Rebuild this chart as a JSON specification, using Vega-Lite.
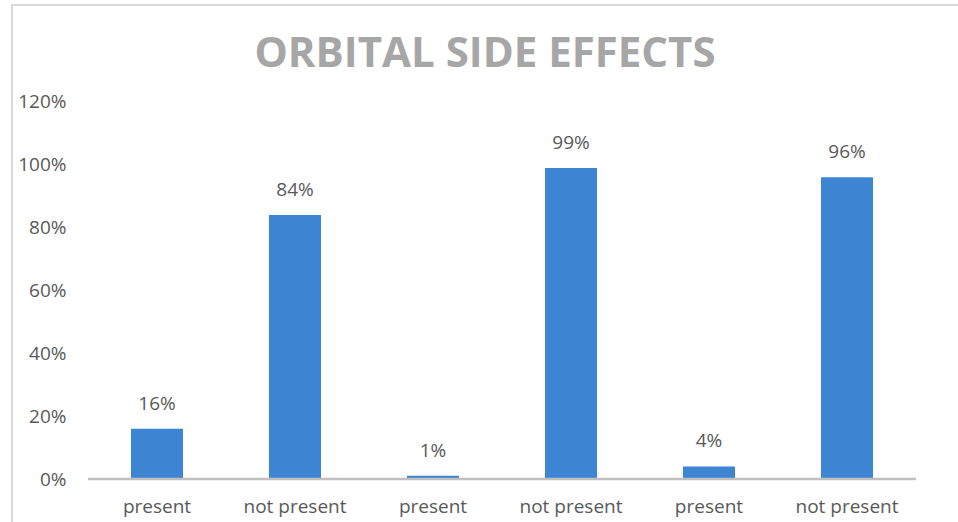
{
  "$schema": "https://vega.github.io/schema/vega-lite/v6.json",
  "autosize": "none",
  "padding": {"left": 12, "top": 5, "right": 0, "bottom": 0},
  "width": 956,
  "height": 530,
  "background": "#ffffff",
  "config": {
    "view": {"stroke": "#d9d9d9", "strokeWidth": 2},
    "font": "Open Sans"
  },
  "title": {
    "text": "ORBITAL SIDE EFFECTS",
    "font": "Open Sans",
    "fontSize": 42,
    "fontWeight": "bold",
    "color": "#a6a6a6",
    "anchor": "middle",
    "baseline": "alphabetic",
    "offset": -104,
    "dx": -5
  },
  "data": {
    "values": [
      {"id": "p1", "label": "present", "value": 0.16, "text": "16%"},
      {"id": "np1", "label": "not present", "value": 0.84, "text": "84%"},
      {"id": "p2", "label": "present", "value": 0.01, "text": "1%"},
      {"id": "np2", "label": "not present", "value": 0.99, "text": "99%"},
      {"id": "p3", "label": "present", "value": 0.04, "text": "4%"},
      {"id": "np3", "label": "not present", "value": 0.96, "text": "96%"}
    ]
  },
  "encoding": {
    "x": {
      "field": "id",
      "type": "nominal",
      "sort": null,
      "scale": {
        "domain": ["p1", "np1", "p2", "np2", "p3", "np3"],
        "paddingInner": 0.6232,
        "paddingOuter": 0.7754,
        "align": 0.556,
        "round": false
      },
      "axis": {
        "title": null,
        "orient": "bottom",
        "offset": -56,
        "domain": false,
        "ticks": false,
        "labelAngle": 0,
        "labelPadding": 18,
        "labelFont": "Open Sans",
        "labelFontSize": 19,
        "labelColor": "#595959",
        "labelExpr": "indexof(datum.value, 'np') === 0 ? 'not present' : 'present'"
      }
    }
  },
  "layer": [
    {
      "mark": {"type": "bar", "color": "#3d84d3"},
      "encoding": {
        "y": {
          "field": "value",
          "type": "quantitative",
          "scale": {"domain": [-0.1782, 1.5086], "nice": false, "zero": false},
          "axis": {
            "title": null,
            "orient": "left",
            "offset": -56,
            "domain": false,
            "ticks": false,
            "grid": false,
            "values": [0, 0.2, 0.4, 0.6, 0.8, 1.0, 1.2],
            "format": ".0%",
            "labelPadding": 2,
            "labelFont": "Open Sans",
            "labelFontSize": 19,
            "labelColor": "#595959"
          }
        }
      }
    },
    {
      "mark": {"type": "text", "baseline": "alphabetic", "dy": -19, "font": "Open Sans", "fontSize": 19, "color": "#595959"},
      "encoding": {
        "y": {"field": "value", "type": "quantitative"},
        "text": {"field": "text"}
      }
    },
    {
      "data": {"values": [{"a": "p1", "b": "np3", "base": 0}]},
      "mark": {"type": "rule", "color": "#bfbfbf", "strokeWidth": 2.5},
      "encoding": {
        "x": {"field": "a", "type": "nominal", "bandPosition": -0.827},
        "x2": {"field": "b", "bandPosition": 1.827},
        "y": {"field": "base", "type": "quantitative"}
      }
    }
  ]
}
